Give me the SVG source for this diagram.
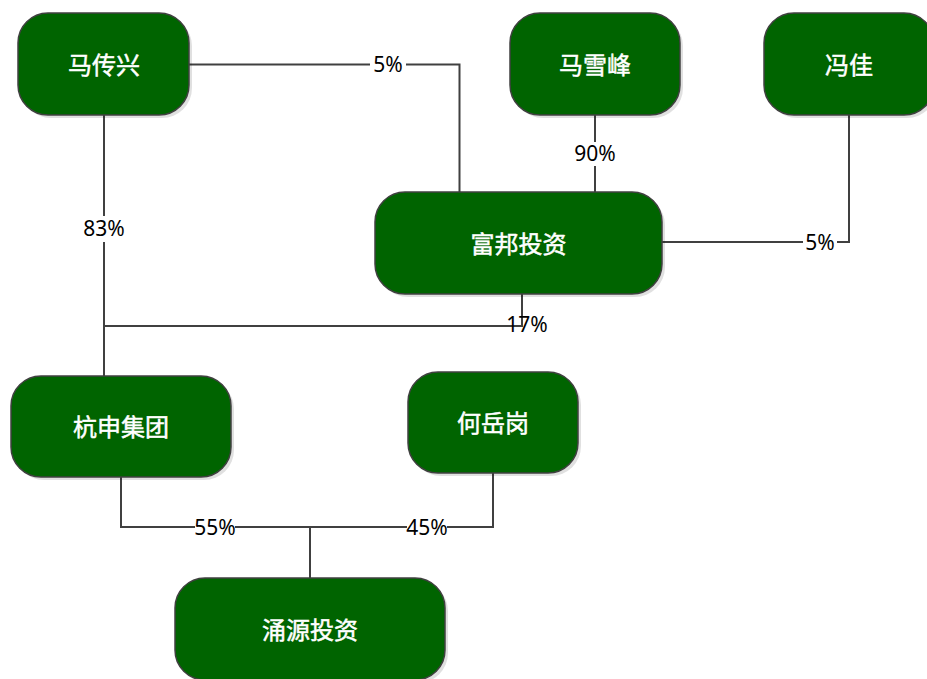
<svg xmlns="http://www.w3.org/2000/svg" width="927" height="679" viewBox="0 0 927 679">
<defs>
<style>
.node rect.box{fill:#006400;stroke:#404040;stroke-width:1.5}
.node rect.sh{fill:#000;opacity:0.12}
.node text{fill:#fff;stroke:#fff;stroke-width:0.5;font-family:"Noto Sans CJK SC","Noto Sans",sans-serif;font-size:24px;text-anchor:middle;dominant-baseline:central}
#connectors path{fill:none;stroke:#404040;stroke-width:2}
.lbg{fill:#fff}
.lbl{fill:#000;font-family:"Noto Sans","Open Sans",sans-serif;font-size:21px;text-anchor:middle;dominant-baseline:central}
</style>
</defs>
<rect width="927" height="679" fill="#fff"/>
<g id="connectors">
<path d="M189,64.5 H459.5 V192"/>
<path d="M595,115 V192"/>
<path d="M849,115 V242 H662"/>
<path d="M104,115 V376"/>
<path d="M522,294 V326 H104"/>
<path d="M121,477 V527 H310 V578"/>
<path d="M493,473 V527 H310"/>
</g>
<g id="labels">
<rect class="lbg" x="370" y="53" width="36" height="24"/><text class="lbl" x="388" y="64">5%</text>
<rect class="lbg" x="573" y="142" width="44" height="24"/><text class="lbl" x="595" y="153">90%</text>
<rect class="lbg" x="82" y="216" width="44" height="26"/><text class="lbl" x="104" y="228">83%</text>
<rect class="lbg" x="803" y="231" width="34" height="24"/><text class="lbl" x="820" y="242">5%</text>
<text class="lbl" x="527" y="324">17%</text>
<rect class="lbg" x="195" y="516" width="40" height="24"/><text class="lbl" x="215" y="527">55%</text>
<rect class="lbg" x="407" y="516" width="40" height="24"/><text class="lbl" x="427" y="527">45%</text>
</g>
<g id="n1" class="node"><rect class="sh" x="21" y="16" width="171" height="102" rx="30"/><rect class="box" x="18" y="13" width="171" height="102" rx="30"/><text x="104" y="63">马传兴</text></g>
<g id="n2" class="node"><rect class="sh" x="513" y="16" width="170" height="102" rx="30"/><rect class="box" x="510" y="13" width="170" height="102" rx="30"/><text x="595" y="63">马雪峰</text></g>
<g id="n3" class="node"><rect class="sh" x="767" y="16" width="170" height="102" rx="30"/><rect class="box" x="764" y="13" width="170" height="102" rx="30"/><text x="849" y="63">冯佳</text></g>
<g id="n4" class="node"><rect class="sh" x="378" y="195" width="287" height="102" rx="30"/><rect class="box" x="375" y="192" width="287" height="102" rx="30"/><text x="518.5" y="242">富邦投资</text></g>
<g id="n5" class="node"><rect class="sh" x="14" y="379" width="220" height="101" rx="30"/><rect class="box" x="11" y="376" width="220" height="101" rx="30"/><text x="121" y="425.5">杭申集团</text></g>
<g id="n6" class="node"><rect class="sh" x="411" y="375" width="170" height="101" rx="30"/><rect class="box" x="408" y="372" width="170" height="101" rx="30"/><text x="493" y="421.5">何岳岗</text></g>
<g id="n7" class="node"><rect class="sh" x="178" y="581" width="270" height="102" rx="30"/><rect class="box" x="175" y="578" width="270" height="102" rx="30"/><text x="310" y="628">涌源投资</text></g>
</svg>
